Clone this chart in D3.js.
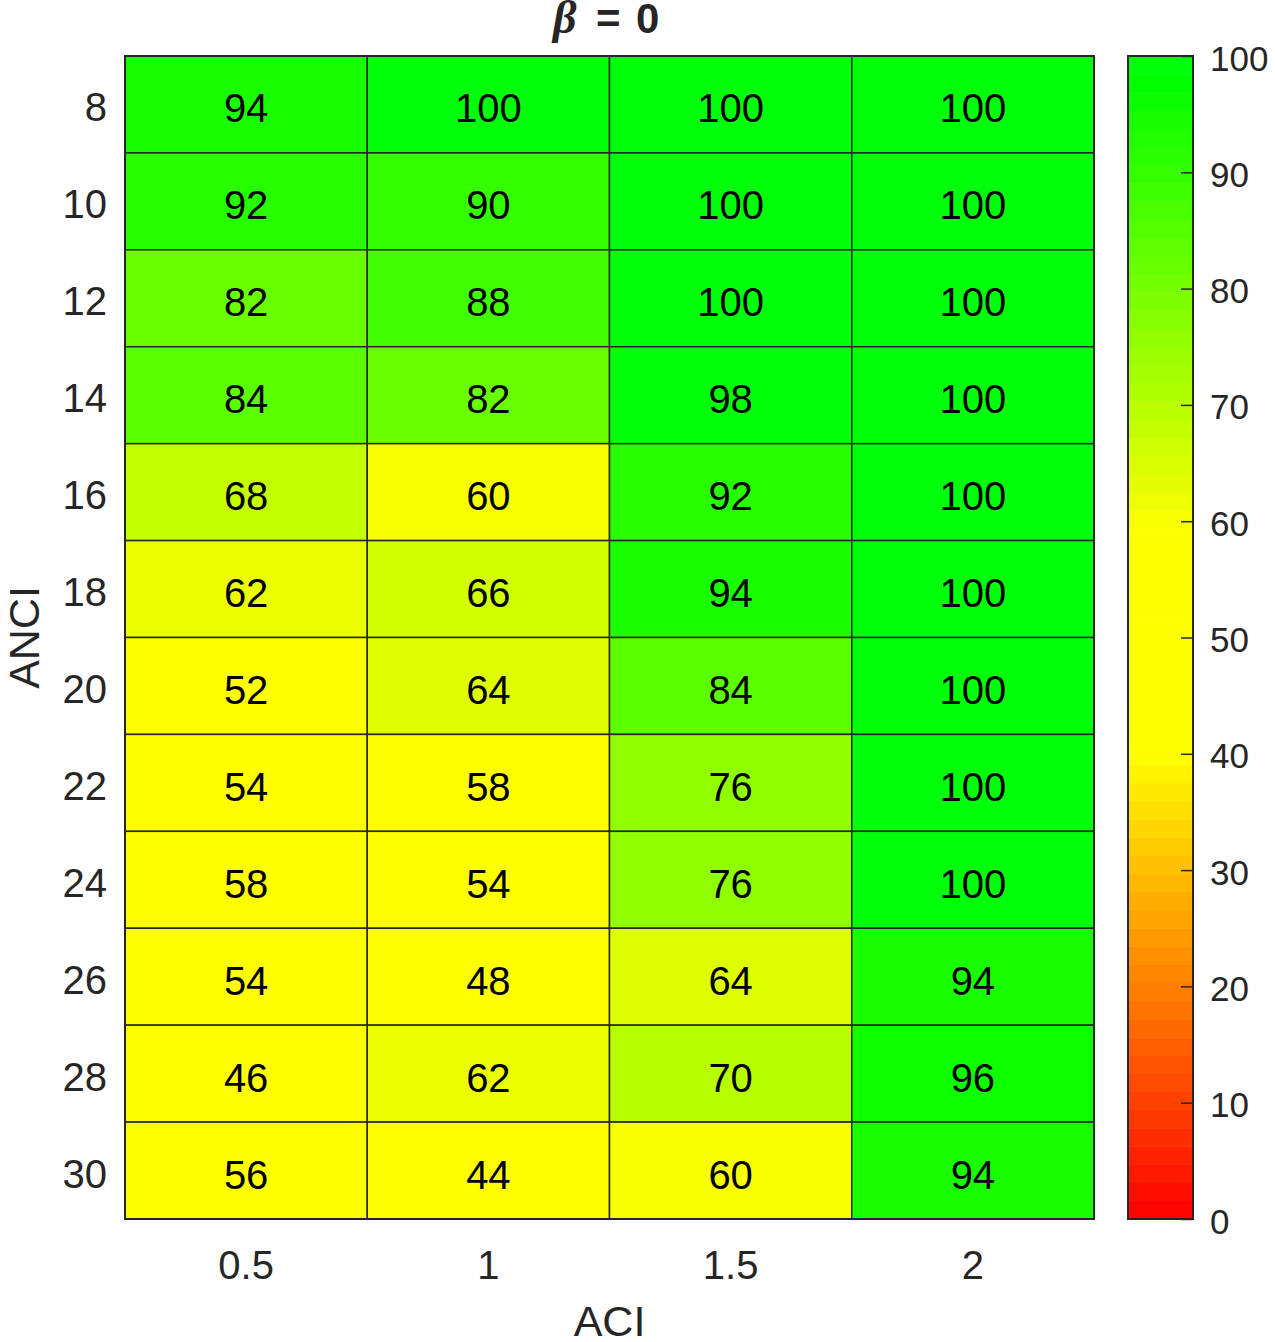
<!DOCTYPE html>
<html><head><meta charset="utf-8">
<script src="https://cdn.jsdelivr.net/npm/d3@7"></script>
<style>body{margin:0;background:#fff}svg{display:block}text{font-family:"Liberation Sans",Arial,Helvetica,sans-serif}</style>
</head><body>
<script>
const xCategories = ["0.5","1","1.5","2"];
const yCategories = ["8","10","12","14","16","18","20","22","24","26","28","30"];
const row8  = [94,100,100,100];
const row10 = [92,90,100,100];
const row12 = [82,88,100,100];
const row14 = [84,82,98,100];
const row16 = [68,60,92,100];
const row18 = [62,66,94,100];
const row20 = [52,64,84,100];
const row22 = [54,58,76,100];
const row24 = [58,54,76,100];
const row26 = [54,48,64,94];
const row28 = [46,62,70,96];
const row30 = [56,44,60,94];
const values = [row8,row10,row12,row14,row16,row18,row20,row22,row24,row26,row28,row30];
const colorbarTicks = [0,10,20,30,40,50,60,70,80,90,100];

const W=1275,H=1342;
const svg=d3.select("body").append("svg").attr("width",W).attr("height",H);
const L=125,R=1094,T=56,B=1219;
const x=d3.scaleBand().domain(xCategories).range([L,R]);
const y=d3.scaleBand().domain(yCategories).range([T,B]);

// colormap: red->yellow (0-40), yellow (40-59), yellow->green (59-98), quantized
const NL=64;
function cmapCont(t){
  let r,g,b=0;
  if(t<40){r=255;g=255*t/40;}
  else if(t<59){r=255;g=255;}
  else if(t<98){r=255*(98-t)/39;g=255;}
  else {r=0;g=255;b=10;}
  return d3.rgb(Math.round(r),Math.round(g),b);
}
function cmap(v){
  let q=Math.min(NL-1,Math.floor(v/100*NL));
  return cmapCont((q+0.5)/NL*100);
}
function cellColor(v){ return cmapCont(v); }

const cells=[];
values.forEach((row,i)=>row.forEach((v,j)=>cells.push({xc:xCategories[j],yc:yCategories[i],v})));
svg.append("g").selectAll("rect").data(cells).join("rect")
  .attr("x",d=>x(d.xc)).attr("y",d=>y(d.yc))
  .attr("width",x.bandwidth()).attr("height",y.bandwidth())
  .attr("fill",d=>cellColor(d.v)).attr("stroke","#262626").attr("stroke-width",1.5);
svg.append("g").selectAll("text").data(cells).join("text")
  .attr("x",d=>x(d.xc)+x.bandwidth()/2).attr("y",d=>y(d.yc)+y.bandwidth()/2+18)
  .attr("text-anchor","middle")
  .attr("font-size",40).attr("fill","#000").text(d=>d.v);
svg.append("rect").attr("x",L).attr("y",T).attr("width",R-L).attr("height",B-T)
  .attr("fill","none").attr("stroke","#262626").attr("stroke-width",2);

// axes
const xa=svg.append("g").attr("transform",`translate(0,${B})`).call(d3.axisBottom(x).tickSize(0).tickPadding(0));
xa.select(".domain").remove();
xa.selectAll("text").attr("dy",null).attr("y",60).attr("font-size",40).attr("fill","#262626").attr("font-family","Liberation Sans, Arial, sans-serif");
const ya=svg.append("g").attr("transform",`translate(${L},0)`).call(d3.axisLeft(y).tickSize(0).tickPadding(18));
ya.select(".domain").remove();
ya.selectAll("text").attr("dy",null).attr("y",17).attr("font-size",40).attr("fill","#262626").attr("font-family","Liberation Sans, Arial, sans-serif");

svg.append("text").attr("x",(L+R)/2).attr("y",1336).attr("text-anchor","middle")
  .attr("font-size",43).attr("fill","#262626").text("ACI");
svg.append("text").attr("transform",`translate(39,${(T+B)/2}) rotate(-90)`).attr("text-anchor","middle")
  .attr("font-size",43).attr("fill","#262626").text("ANCI");

// title
const tt=svg.append("text").attr("y",33).attr("font-size",42).attr("font-weight","bold").attr("fill","#262626");
tt.append("tspan").attr("x",553).attr("font-style","italic").attr("font-family","Liberation Serif, serif").attr("font-size",46).text("β");
tt.append("tspan").attr("x",596).text("=");
tt.append("tspan").attr("x",636).text("0");

// colorbar
const cL=1128,cR=1193;
const cy=d3.scaleLinear().domain([0,100]).range([B,T]);
const cb=svg.append("g");
for(let k=0;k<NL;k++){
  const v0=k*100/NL,v1=(k+1)*100/NL;
  cb.append("rect").attr("x",cL).attr("y",cy(v1)).attr("width",cR-cL).attr("height",cy(v0)-cy(v1)+0.5)
    .attr("fill",cmap((v0+v1)/2));
}
cb.append("rect").attr("x",cL).attr("y",T).attr("width",cR-cL).attr("height",B-T)
  .attr("fill","none").attr("stroke","#262626").attr("stroke-width",2);
const ca=svg.append("g").attr("transform",`translate(${cR},0)`).call(d3.axisRight(cy).tickValues(colorbarTicks).tickSize(-12).tickPadding(17).tickFormat(d3.format("d")));
ca.select(".domain").remove();
ca.selectAll("line").attr("stroke","#262626").attr("stroke-width",1.5);
ca.selectAll("text").attr("dy",null).attr("y",14).attr("font-size",35).attr("fill","#262626").attr("font-family","Liberation Sans, Arial, sans-serif");
</script>
</body></html>
